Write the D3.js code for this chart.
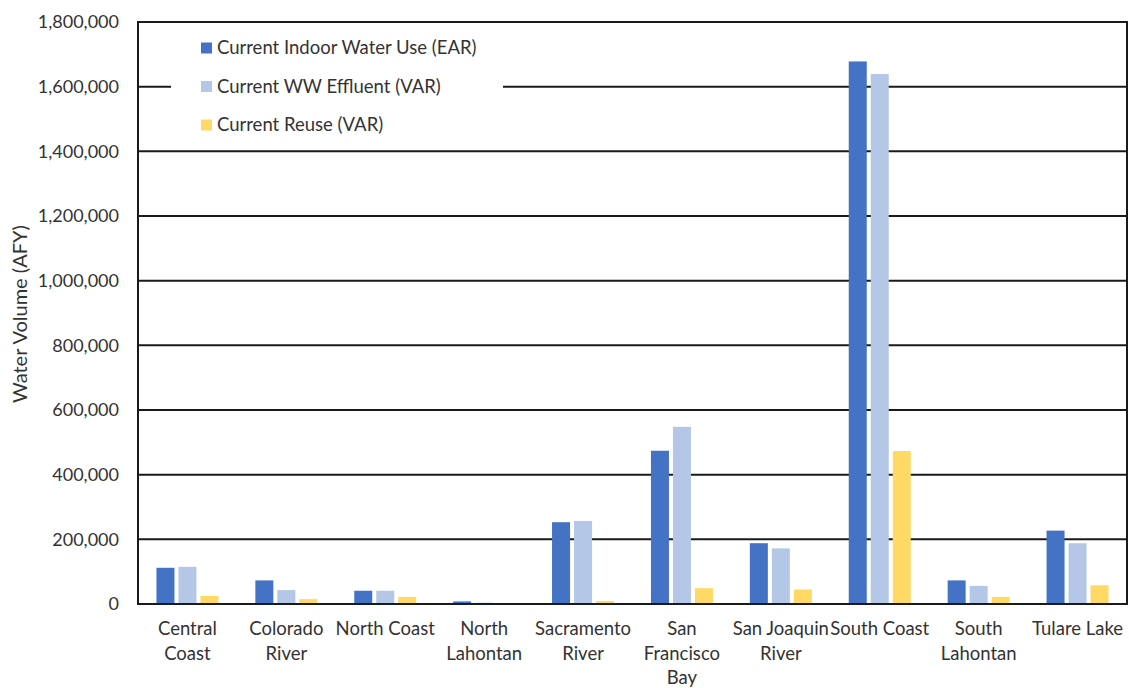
<!DOCTYPE html>
<html>
<head>
<meta charset="utf-8">
<script src="https://cdn.jsdelivr.net/npm/d3@7"></script>
<style>
  html, body { margin: 0; padding: 0; background: #fff; }
  svg text { font-family: Lato, "Open Sans", sans-serif; fill: #333; }
</style>
</head>
<body>
<svg id="chart" width="1129" height="688"></svg>
<script>
// Hydrologic regions and their label lines
const regions = ["Central Coast", "Colorado River", "North Coast", "North Lahontan", "Sacramento River",
                 "San Francisco Bay", "San Joaquin River", "South Coast", "South Lahontan", "Tulare Lake"];
const regionLabelLines = [["Central", "Coast"], ["Colorado", "River"], ["North Coast"], ["North", "Lahontan"],
                          ["Sacramento", "River"], ["San", "Francisco", "Bay"], ["San Joaquin", "River"],
                          ["South Coast"], ["South", "Lahontan"], ["Tulare Lake"]];

// Series (acre-feet per year)
const seriesNames = ["Current Indoor Water Use (EAR)", "Current WW Effluent (VAR)", "Current Reuse (VAR)"];
const indoorUse = [112000, 73000, 41000, 8000, 253000, 474000, 188000, 1678000, 73000, 227000];
const wwEffluent = [115000, 43000, 41000, 4000, 257000, 548000, 172000, 1639000, 56000, 188000];
const reuse = [25000, 15000, 22000, 1000, 9000, 49000, 45000, 473000, 22000, 58000];
const seriesValues = [indoorUse, wwEffluent, reuse];
const seriesColors = ["#4472C4", "#B4C7E7", "#FFD966"];

const yTicks = [0, 200000, 400000, 600000, 800000, 1000000, 1200000, 1400000, 1600000, 1800000];

const svg = d3.select("#chart");
const plot = { left: 138, right: 1127, top: 22, bottom: 604 };

const x0 = d3.scaleBand().domain(regions).range([plot.left, plot.right]).padding(0);
const x1 = d3.scaleBand().domain(seriesNames).range([-31, 31]).paddingInner(4 / 22).paddingOuter(0);
const y = d3.scaleLinear().domain([0, 1800000]).range([plot.bottom, plot.top]);

// Horizontal gridlines
svg.append("g")
  .selectAll("line")
  .data(yTicks.slice(1, -1))
  .join("line")
  .attr("x1", plot.left).attr("x2", plot.right)
  .attr("y1", d => y(d)).attr("y2", d => y(d))
  .attr("stroke", "#1a1a1a").attr("stroke-width", 2);

// Y axis tick labels
const fmt = d3.format(",");
const yAxis = d3.axisLeft(y).tickValues(yTicks).tickFormat(fmt).tickSize(0).tickPadding(19);
const yg = svg.append("g").attr("transform", `translate(${plot.left},0)`).call(yAxis);
yg.select(".domain").remove();
yg.selectAll("text").style("font-size", "18px").attr("fill", "#333");

// Bars
const groups = svg.append("g")
  .selectAll("g")
  .data(regions)
  .join("g")
  .attr("transform", d => `translate(${x0(d) + x0.bandwidth() / 2},0)`);

groups.selectAll("rect")
  .data((d, i) => seriesNames.map((s, k) => ({ s, v: seriesValues[k][i], c: seriesColors[k] })))
  .join("rect")
  .attr("x", d => x1(d.s))
  .attr("width", x1.bandwidth())
  .attr("y", d => y(d.v))
  .attr("height", d => plot.bottom - y(d.v))
  .attr("fill", d => d.c);

// Plot frame
svg.append("rect")
  .attr("x", plot.left).attr("y", plot.top)
  .attr("width", plot.right - plot.left).attr("height", plot.bottom - plot.top)
  .attr("fill", "none").attr("stroke", "#1a1a1a").attr("stroke-width", 2);

// Category labels
const xl = svg.append("g");
regions.forEach((r, i) => {
  const cx = x0(r) + x0.bandwidth() / 2;
  const t = xl.append("text")
    .attr("x", cx)
    .attr("y", 635)
    .attr("text-anchor", "middle")
    .style("font-size", "18.5px");
  regionLabelLines[i].forEach((line, j) => {
    t.append("tspan").attr("x", cx).attr("dy", j === 0 ? 0 : 24.5).text(line);
  });
});

// Y axis title
svg.append("text")
  .attr("transform", "translate(27,314) rotate(-90)")
  .attr("text-anchor", "middle")
  .style("font-size", "20px")
  .text("Water Volume (AFY)");

// Legend with white background
const legend = svg.append("g");
legend.append("rect")
  .attr("x", 171).attr("y", 30).attr("width", 332).attr("height", 114)
  .attr("fill", "#fff");
seriesNames.forEach((s, k) => {
  const cy = 48 + k * 38.5;
  legend.append("rect")
    .attr("x", 201).attr("y", cy - 5.5).attr("width", 11).attr("height", 11)
    .attr("fill", seriesColors[k]);
  legend.append("text")
    .attr("x", 217).attr("y", cy).attr("dy", "0.35em")
    .style("font-size", "18.5px")
    .text(s);
});
</script>
</body>
</html>
